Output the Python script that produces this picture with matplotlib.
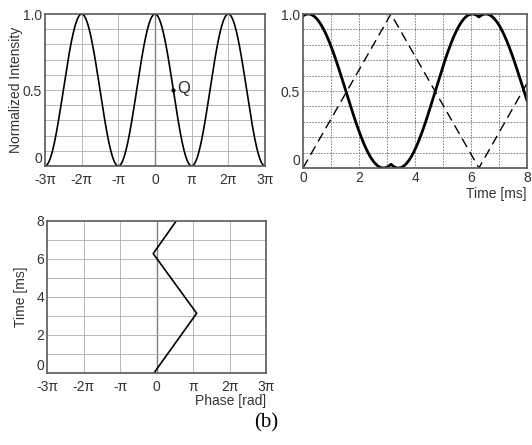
import numpy as np
import matplotlib.pyplot as plt

plt.rcParams['font.family'] = ['Liberation Sans', 'DejaVu Sans']

# phase axis ticks (multiples of pi)
phase_ticks = [-3, -2, -1, 0, 1, 2, 3]
phase_labels = ['-3π', '-2π', '-π', '0', 'π', '2π', '3π']

# drive ramp (dashed), normalised 0..1, turning points in ms
ramp_t = [0.0, np.pi, 2 * np.pi, 8.0]
ramp_v = [0.0, 1.0, 0.0, 0.55]

# modulator phase in units of pi at the same turning points
phase_t = [0.0, np.pi, 2 * np.pi, 8.0]
phase_v = [-0.07, 1.10, -0.09, 0.54]

# operating point Q
q_phase = 0.5
q_int = 0.5

W, H = 532, 445
fig = plt.figure(figsize=(W / 100, H / 100), dpi=100)

def box(l, r, t, b):
    return [l / W, 1 - b / H, (r - l) / W, (b - t) / H]

ax1 = fig.add_axes(box(45, 265, 14, 166))
ax2 = fig.add_axes(box(303, 527, 14, 168))
ax3 = fig.add_axes(box(47, 266, 221, 373))

gridc = '0.68'
for ax in (ax1, ax2, ax3):
    for s in ax.spines.values():
        s.set_color('0.35')
        s.set_linewidth(1.2)
    ax.tick_params(length=0, labelsize=10, colors='0.2')
    ax.tick_params(axis='x', pad=5)
    ax.tick_params(axis='y', pad=2)

def bottom_zero(ax):
    # keep the "0" on the y axis clear of the first x label
    lab = ax.get_yticklabels()[0]
    lab.set_va('bottom')

# transfer curve I = cos^2(phi/2)
x = np.linspace(-3, 3, 600)
ax1.plot(x, np.cos(x * np.pi / 2) ** 2, color='k', lw=1.2)
ax1.plot(q_phase, q_int, 'o', color='k', ms=2)
ax1.text(q_phase + 0.12, q_int + 0.01, 'Q', fontsize=12, va='center', color='0.15')
ax1.set_xlim(-3, 3)
ax1.set_ylim(0, 1)
ax1.set_xticks(phase_ticks)
ax1.set_xticklabels(phase_labels)
ax1.set_yticks([0, 0.5, 1])
ax1.set_yticklabels(['0', '0.5', '1.0'])
bottom_zero(ax1)
for v in [-2, -1, 1, 2]:
    ax1.axvline(v, color=gridc, lw=0.6, zorder=0)
ax1.axvline(0, color='0.5', lw=1.0, zorder=0)
for v in np.arange(0.1, 1.0, 0.1):
    ax1.axhline(v, color=gridc, lw=0.6, zorder=0)
ax1.set_ylabel('Normalized Intensity', fontsize=10, color='0.2', labelpad=0)

# time response
t = np.linspace(0, 8, 800)
phi = np.interp(t, phase_t, phase_v)
ax2.plot(t, np.cos(phi * np.pi / 2) ** 2, color='k', lw=2.0)
ax2.plot(ramp_t, ramp_v, color='k', lw=1.0, dashes=(7, 4))
ax2.set_xlim(0, 8)
ax2.set_ylim(0, 1)
ax2.set_xticks([0, 2, 4, 6, 8])
ax2.tick_params(axis='x', pad=2)
ax2.set_yticks([0, 0.5, 1])
ax2.set_yticklabels(['0', '0.5', '1.0'])
bottom_zero(ax2)
for v in range(1, 8):
    ax2.axvline(v, color='0.45', lw=0.6, ls=(0, (2, 1.5)), zorder=0)
for v in np.arange(0.1, 1.0, 0.1):
    ax2.axhline(v, color='0.45', lw=0.6, ls=(0, (2, 1.5)), zorder=0)
ax2.text(1.0, -0.125, 'Time [ms]', transform=ax2.transAxes, ha='right', va='top',
         fontsize=10, color='0.2')

# phase vs time
ax3.plot(phase_v, phase_t, color='k', lw=1.2)
ax3.set_xlim(-3, 3)
ax3.set_ylim(0, 8)
ax3.set_xticks(phase_ticks)
ax3.set_xticklabels(phase_labels)
ax3.set_yticks([0, 2, 4, 6, 8])
bottom_zero(ax3)
for v in [-2, -1, 1, 2]:
    ax3.axvline(v, color=gridc, lw=0.6, zorder=0)
ax3.axvline(0, color='0.5', lw=1.0, zorder=0)
for v in range(1, 8):
    ax3.axhline(v, color=gridc, lw=0.6, zorder=0)
ax3.set_ylabel('Time [ms]', fontsize=10, color='0.2', labelpad=6)
ax3.text(1.0, -0.14, 'Phase [rad]', transform=ax3.transAxes, ha='right', va='top',
         fontsize=10, color='0.2')

fig.text(266 / W, 1 - 423 / H, '(b)', family='Liberation Serif', fontsize=15,
         ha='center', va='center')

fig.savefig('out.png', dpi=100)
